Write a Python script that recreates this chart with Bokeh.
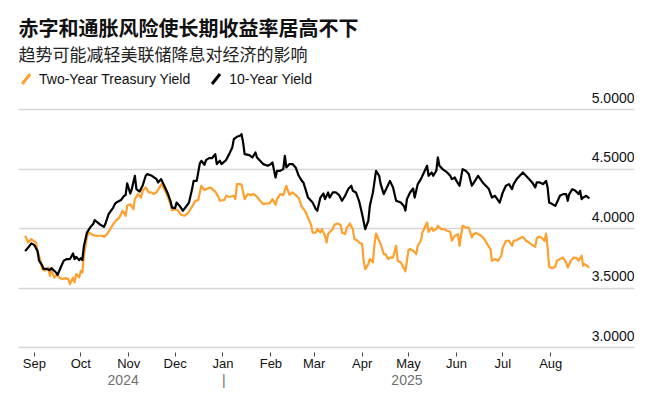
import pandas as pd
from bokeh.plotting import figure
from bokeh.models import (Range1d, FixedTicker, DatetimeTickFormatter, LinearAxis,
                          Label, Legend, LegendItem, ColumnDataSource, Arrow)
from bokeh.core.properties import value
from bokeh.embed import file_html
from bokeh.resources import INLINE

# ---------------- data ----------------
ten_dates = [
    "2024-08-26", "2024-08-28", "2024-08-30", "2024-09-01", "2024-09-03", "2024-09-04", "2024-09-06",
    "2024-09-07", "2024-09-09", "2024-09-11", "2024-09-12", "2024-09-15", "2024-09-16", "2024-09-18",
    "2024-09-20", "2024-09-22", "2024-09-24", "2024-09-26", "2024-09-27", "2024-09-28", "2024-09-30",
    "2024-10-01", "2024-10-02", "2024-10-03", "2024-10-05", "2024-10-07", "2024-10-09", "2024-10-10",
    "2024-10-12", "2024-10-14", "2024-10-16", "2024-10-17", "2024-10-19", "2024-10-22", "2024-10-23",
    "2024-10-24", "2024-10-27", "2024-10-29", "2024-10-30", "2024-10-31", "2024-11-02", "2024-11-03",
    "2024-11-05", "2024-11-06", "2024-11-08", "2024-11-10", "2024-11-12", "2024-11-13", "2024-11-16",
    "2024-11-19", "2024-11-20", "2024-11-22", "2024-11-24", "2024-11-26", "2024-11-28", "2024-11-29",
    "2024-12-01", "2024-12-02", "2024-12-04", "2024-12-06", "2024-12-08", "2024-12-10", "2024-12-12",
    "2024-12-13", "2024-12-15", "2024-12-17", "2024-12-18", "2024-12-20", "2024-12-21", "2024-12-23",
    "2024-12-25", "2024-12-27", "2024-12-28", "2024-12-30", "2024-12-31", "2025-01-03", "2025-01-05",
    "2025-01-07", "2025-01-08", "2025-01-10", "2025-01-12", "2025-01-13", "2025-01-14", "2025-01-15",
    "2025-01-18", "2025-01-20", "2025-01-22", "2025-01-23", "2025-01-25", "2025-01-27", "2025-01-30",
    "2025-02-01", "2025-02-02", "2025-02-04", "2025-02-05", "2025-02-07", "2025-02-09", "2025-02-10",
    "2025-02-11", "2025-02-13", "2025-02-15", "2025-02-17", "2025-02-19", "2025-02-21", "2025-02-22",
    "2025-02-24", "2025-02-25", "2025-02-28", "2025-03-02", "2025-03-03", "2025-03-05", "2025-03-07",
    "2025-03-08", "2025-03-10", "2025-03-11", "2025-03-13", "2025-03-15", "2025-03-17", "2025-03-19",
    "2025-03-21", "2025-03-23", "2025-03-25", "2025-03-26", "2025-03-28", "2025-03-30", "2025-04-01",
    "2025-04-03", "2025-04-05", "2025-04-06", "2025-04-08", "2025-04-10", "2025-04-12", "2025-04-13",
    "2025-04-15", "2025-04-17", "2025-04-19", "2025-04-21", "2025-04-23", "2025-04-26", "2025-04-28",
    "2025-04-29", "2025-04-30", "2025-05-02", "2025-05-04", "2025-05-05", "2025-05-07", "2025-05-09",
    "2025-05-11", "2025-05-13", "2025-05-14", "2025-05-16", "2025-05-17", "2025-05-19", "2025-05-20",
    "2025-05-21", "2025-05-23", "2025-05-26", "2025-05-28", "2025-05-29", "2025-05-31", "2025-06-01",
    "2025-06-03", "2025-06-05", "2025-06-07", "2025-06-09", "2025-06-11", "2025-06-13", "2025-06-15",
    "2025-06-18", "2025-06-20", "2025-06-22", "2025-06-24", "2025-06-26", "2025-06-29", "2025-07-01",
    "2025-07-03", "2025-07-05", "2025-07-07", "2025-07-08", "2025-07-10", "2025-07-12", "2025-07-14",
    "2025-07-16", "2025-07-18", "2025-07-20", "2025-07-22", "2025-07-23", "2025-07-25", "2025-07-27",
    "2025-07-29", "2025-07-30", "2025-07-31", "2025-08-02", "2025-08-04", "2025-08-05", "2025-08-07",
    "2025-08-09", "2025-08-11", "2025-08-12", "2025-08-13", "2025-08-15", "2025-08-17", "2025-08-19",
    "2025-08-20", "2025-08-21", "2025-08-22", "2025-08-24", "2025-08-26",
]
ten_yield = [
    3.81, 3.84, 3.875, 3.86, 3.81, 3.73, 3.69,
    3.66, 3.66, 3.65, 3.667, 3.63, 3.61, 3.672,
    3.73, 3.743, 3.743, 3.79, 3.743, 3.762, 3.734,
    3.75, 3.734, 3.85, 3.966, 4.008, 4.037, 4.07,
    4.05, 4.029, 4.014, 4.042, 4.121, 4.176, 4.205,
    4.218, 4.239, 4.275, 4.28, 4.38, 4.294, 4.331,
    4.443, 4.331, 4.31, 4.359, 4.443, 4.457, 4.443,
    4.415, 4.387, 4.415, 4.359, 4.303, 4.233, 4.176,
    4.171, 4.218, 4.19, 4.149, 4.182, 4.218, 4.331,
    4.40, 4.40, 4.546, 4.569, 4.535, 4.575, 4.592,
    4.592, 4.625, 4.541, 4.569, 4.541, 4.575, 4.625,
    4.681, 4.751, 4.771, 4.779, 4.793, 4.723, 4.625,
    4.617, 4.597, 4.639, 4.597, 4.569, 4.541, 4.527,
    4.541, 4.555, 4.429, 4.485, 4.485, 4.499, 4.611,
    4.513, 4.541, 4.541, 4.513, 4.443, 4.40, 4.387,
    4.303, 4.26, 4.218, 4.163, 4.149, 4.26, 4.294,
    4.247, 4.303, 4.26, 4.303, 4.303, 4.283, 4.233,
    4.275, 4.331, 4.359, 4.317, 4.303, 4.233, 4.121,
    3.995, 4.065, 4.191, 4.303, 4.485, 4.443, 4.373,
    4.289, 4.345, 4.40, 4.345, 4.233, 4.218, 4.19,
    4.15, 4.247, 4.303, 4.336, 4.26, 4.373, 4.415,
    4.471, 4.527, 4.443, 4.471, 4.443, 4.485, 4.597,
    4.527, 4.499, 4.471, 4.443, 4.415, 4.429, 4.40,
    4.359, 4.499, 4.485, 4.457, 4.359, 4.40, 4.443,
    4.387, 4.359, 4.331, 4.26, 4.275, 4.218, 4.303,
    4.359, 4.373, 4.331, 4.373, 4.415, 4.443, 4.471,
    4.443, 4.415, 4.387, 4.345, 4.387, 4.387, 4.373,
    4.40, 4.345, 4.218, 4.205, 4.19, 4.218, 4.275,
    4.289, 4.289, 4.233, 4.289, 4.331, 4.317, 4.289,
    4.317, 4.247, 4.26, 4.275, 4.252,
]

two_dates = [
    "2024-08-26", "2024-08-28", "2024-08-30", "2024-09-02", "2024-09-03", "2024-09-05", "2024-09-06",
    "2024-09-08", "2024-09-10", "2024-09-11", "2024-09-12", "2024-09-14", "2024-09-16", "2024-09-17",
    "2024-09-19", "2024-09-21", "2024-09-23", "2024-09-24", "2024-09-26", "2024-09-27", "2024-09-28",
    "2024-09-30", "2024-10-01", "2024-10-02", "2024-10-03", "2024-10-05", "2024-10-06", "2024-10-08",
    "2024-10-10", "2024-10-12", "2024-10-15", "2024-10-16", "2024-10-18", "2024-10-20", "2024-10-22",
    "2024-10-24", "2024-10-26", "2024-10-28", "2024-10-30", "2024-10-31", "2024-11-02", "2024-11-04",
    "2024-11-05", "2024-11-07", "2024-11-09", "2024-11-10", "2024-11-12", "2024-11-14", "2024-11-16",
    "2024-11-17", "2024-11-19", "2024-11-21", "2024-11-22", "2024-11-24", "2024-11-26", "2024-11-28",
    "2024-11-29", "2024-12-01", "2024-12-03", "2024-12-05", "2024-12-07", "2024-12-09", "2024-12-11",
    "2024-12-13", "2024-12-14", "2024-12-16", "2024-12-17", "2024-12-18", "2024-12-20", "2024-12-21",
    "2024-12-24", "2024-12-25", "2024-12-27", "2024-12-29", "2024-12-30", "2025-01-02", "2025-01-03",
    "2025-01-05", "2025-01-08", "2025-01-09", "2025-01-10", "2025-01-12", "2025-01-13", "2025-01-15",
    "2025-01-17", "2025-01-19", "2025-01-21", "2025-01-23", "2025-01-25", "2025-01-27", "2025-01-29",
    "2025-01-31", "2025-02-02", "2025-02-04", "2025-02-05", "2025-02-07", "2025-02-09", "2025-02-11",
    "2025-02-13", "2025-02-15", "2025-02-17", "2025-02-19", "2025-02-21", "2025-02-23", "2025-02-25",
    "2025-02-27", "2025-02-28", "2025-03-02", "2025-03-03", "2025-03-05", "2025-03-06", "2025-03-08",
    "2025-03-09", "2025-03-10", "2025-03-13", "2025-03-14", "2025-03-16", "2025-03-18", "2025-03-19",
    "2025-03-21", "2025-03-22", "2025-03-24", "2025-03-26", "2025-03-27", "2025-03-29", "2025-03-30",
    "2025-04-01", "2025-04-02", "2025-04-03", "2025-04-05", "2025-04-06", "2025-04-08", "2025-04-09",
    "2025-04-10", "2025-04-12", "2025-04-13", "2025-04-15", "2025-04-16", "2025-04-18", "2025-04-19",
    "2025-04-21", "2025-04-23", "2025-04-24", "2025-04-26", "2025-04-27", "2025-04-29", "2025-05-01",
    "2025-05-02", "2025-05-04", "2025-05-06", "2025-05-07", "2025-05-09", "2025-05-10", "2025-05-12",
    "2025-05-13", "2025-05-14", "2025-05-16", "2025-05-17", "2025-05-19", "2025-05-20", "2025-05-22",
    "2025-05-24", "2025-05-26", "2025-05-28", "2025-05-29", "2025-05-31", "2025-06-02", "2025-06-03",
    "2025-06-05", "2025-06-07", "2025-06-09", "2025-06-11", "2025-06-12", "2025-06-14", "2025-06-17",
    "2025-06-19", "2025-06-21", "2025-06-23", "2025-06-24", "2025-06-26", "2025-06-28", "2025-06-30",
    "2025-07-01", "2025-07-03", "2025-07-05", "2025-07-07", "2025-07-08", "2025-07-10", "2025-07-12",
    "2025-07-14", "2025-07-16", "2025-07-18", "2025-07-20", "2025-07-22", "2025-07-23", "2025-07-24",
    "2025-07-26", "2025-07-28", "2025-07-29", "2025-07-30", "2025-07-31", "2025-08-02", "2025-08-04",
    "2025-08-05", "2025-08-07", "2025-08-09", "2025-08-11", "2025-08-12", "2025-08-14", "2025-08-16",
    "2025-08-18", "2025-08-19", "2025-08-21", "2025-08-22", "2025-08-23", "2025-08-26",
]
two_yield = [
    3.939, 3.882, 3.911, 3.882, 3.813, 3.729, 3.659,
    3.645, 3.672, 3.602, 3.645, 3.588, 3.617, 3.588,
    3.575, 3.583, 3.575, 3.533, 3.588, 3.546, 3.617,
    3.588, 3.645, 3.63, 3.77, 3.924, 3.966, 3.953,
    3.939, 3.939, 3.939, 3.93, 3.953, 3.995, 4.037,
    4.07, 4.092, 4.149, 4.107, 4.191, 4.205, 4.163,
    4.247, 4.289, 4.26, 4.317, 4.345, 4.303, 4.303,
    4.289, 4.303, 4.345, 4.373, 4.331, 4.275, 4.205,
    4.154, 4.163, 4.149, 4.115, 4.107, 4.126, 4.163,
    4.205, 4.233, 4.239, 4.303, 4.359, 4.322, 4.331,
    4.345, 4.331, 4.31, 4.266, 4.233, 4.24, 4.275,
    4.265, 4.275, 4.247, 4.373, 4.373, 4.367, 4.247,
    4.289, 4.283, 4.289, 4.266, 4.233, 4.205, 4.21,
    4.21, 4.247, 4.199, 4.247, 4.289, 4.283, 4.359,
    4.283, 4.303, 4.283, 4.255, 4.182, 4.149, 4.092,
    4.03, 3.966, 3.965, 3.995, 3.966, 3.995, 3.939,
    3.882, 3.953, 3.995, 4.031, 4.042, 4.031, 3.966,
    3.953, 4.003, 4.042, 3.995, 3.911, 3.897, 3.882,
    3.869, 3.729, 3.659, 3.701, 3.743, 3.715, 3.869,
    3.958, 3.897, 3.869, 3.785, 3.785, 3.743, 3.756,
    3.756, 3.855, 3.729, 3.715, 3.69, 3.64, 3.82,
    3.827, 3.813, 3.785, 3.855, 3.897, 3.966, 4.023,
    4.05, 3.972, 4.008, 3.981, 3.995, 4.023, 3.995,
    3.995, 3.981, 3.972, 3.897, 3.939, 3.953, 3.855,
    4.023, 4.008, 4.008, 3.924, 3.953, 3.961, 3.939,
    3.911, 3.869, 3.827, 3.729, 3.743, 3.729, 3.771,
    3.84, 3.897, 3.897, 3.855, 3.897, 3.902, 3.919,
    3.93, 3.897, 3.882, 3.863, 3.846, 3.919, 3.93,
    3.924, 3.897, 3.958, 3.84, 3.678, 3.667, 3.678,
    3.729, 3.743, 3.756, 3.715, 3.672, 3.729, 3.756,
    3.751, 3.729, 3.771, 3.687, 3.701, 3.672,
]

series_names = ["Two-Year Treasury Yield", "10-Year Yield"]
series_colors = ["#ffa02e", "#000000"]
y_ticks = [3.0, 3.5, 4.0, 4.5, 5.0]
month_starts = ["2024-09-01", "2024-10-01", "2024-11-01", "2024-12-01", "2025-01-01", "2025-02-01",
                "2025-03-01", "2025-04-01", "2025-05-01", "2025-06-01", "2025-07-01", "2025-08-01"]
year_marks = ["2024-10-28 10:00", "2025-01-01 12:00", "2025-04-30 00:00"]
year_texts = ["2024", "|", "2025"]

title_text = "赤字和通胀风险使长期收益率居高不下"
subtitle_text = "趋势可能减轻美联储降息对经济的影响"


def ms(s):
    return pd.Timestamp(s).value / 1e6


x_start = pd.Timestamp("2024-08-21 17:00")
x_end = pd.Timestamp("2025-09-24 05:00")

p = figure(width=660, height=396, x_axis_type="datetime", output_backend="svg",
           toolbar_location=None, y_axis_location=None,
           x_range=Range1d(x_start, x_end), y_range=Range1d(3.0, 5.916),
           min_border_left=18, min_border_right=26, min_border_top=0, min_border_bottom=49)
p.outline_line_color = None
p.background_fill_color = "white"
p.border_fill_color = "white"
p.xgrid.visible = False

yg = p.ygrid[0]
yg.ticker = FixedTicker(ticks=y_ticks)
yg.grid_line_color = "#d6d6d6"
yg.grid_line_width = 1.5

two_src = ColumnDataSource(dict(x=pd.to_datetime(two_dates), y=two_yield))
ten_src = ColumnDataSource(dict(x=pd.to_datetime(ten_dates), y=ten_yield))
p.line("x", "y", source=two_src, line_color=series_colors[0], line_width=2.2, line_join="round")
p.line("x", "y", source=ten_src, line_color=series_colors[1], line_width=2.2, line_join="round")

# y tick labels inside the plot, right aligned above each gridline
lab_src = ColumnDataSource(dict(x=[x_end] * len(y_ticks), y=y_ticks,
                                t=[f"{v:.4f}" for v in y_ticks]))
p.text("x", "y", text="t", source=lab_src, text_align="right", text_baseline="alphabetic",
       y_offset=-12, text_font=value("Liberation Sans"), text_font_size="14px",
       text_color="#111111")

# main x axis
xa = p.xaxis[0]
xa.ticker = FixedTicker(ticks=[ms(s) for s in month_starts])
xa.formatter = DatetimeTickFormatter(months="%b", days="%b", hours="%b", years="%b",
                                     minutes="%b", seconds="%b", milliseconds="%b",
                                     microseconds="%b", minsec="%b", hourmin="%b")
xa.axis_line_color = "#d6d6d6"
xa.axis_line_width = 1.5
xa.major_tick_line_color = "#444444"
xa.major_tick_in = -5
xa.major_tick_out = 9
xa.minor_tick_line_color = None
xa.major_label_standoff = -1
xa.major_label_text_font = "Liberation Sans"
xa.major_label_text_font_size = "13px"
xa.major_label_text_color = "#111111"

# year axis
ya = LinearAxis(ticker=FixedTicker(ticks=[ms(s) for s in year_marks]),
                major_label_overrides={ms(s): t for s, t in zip(year_marks, year_texts)})
ya.axis_line_color = None
ya.major_tick_line_color = None
ya.minor_tick_line_color = None
ya.major_tick_in = 0
ya.major_tick_out = 0
ya.major_label_standoff = -2
ya.major_label_text_font = "Liberation Sans"
ya.major_label_text_font_size = "14px"
ya.major_label_text_color = "#707070"
p.add_layout(ya, "below")

# legend: text from a Legend (icons transparent), slanted strokes drawn as arrows without heads
r_two = p.scatter(x=[two_src.data["x"][-1]], y=[two_yield[-1]], marker="dash",
                  line_color=series_colors[0], line_alpha=0, visible=False)
r_ten = p.scatter(x=[ten_src.data["x"][-1]], y=[ten_yield[-1]], marker="dash",
                  line_color=series_colors[1], line_alpha=0, visible=False)
legend = Legend(items=[LegendItem(label=series_names[0], renderers=[r_two]),
                       LegendItem(label=series_names[1], renderers=[r_ten])],
                orientation="horizontal", location=(-11, 252.5), padding=0, margin=0,
                spacing=7, glyph_width=32, glyph_height=32, label_height=32,
                label_standoff=-10, label_text_font="Liberation Sans",
                label_text_font_size="14px", label_text_color="#111111",
                background_fill_alpha=0, border_line_color=None,
                inactive_fill_alpha=0)
p.add_layout(legend)
for (x0, x1), col in zip([(3.7, 11.7), (193.5, 201.5)], series_colors):
    p.add_layout(Arrow(x_start=x0, y_start=263.5, x_end=x1, y_end=273.5,
                       start_units="screen", end_units="screen", start=None, end=None,
                       line_color=col, line_width=3))

p.add_layout(Label(x=0, y=320, x_units="screen", y_units="screen", text=title_text,
                   text_baseline="middle", text_font="Noto Sans CJK SC", text_font_style="bold",
                   text_font_size="20px", text_color="#111111"))
p.add_layout(Label(x=0, y=294.5, x_units="screen", y_units="screen", text=subtitle_text,
                   text_baseline="middle", text_font="Noto Sans CJK SC",
                   text_font_size="17px", text_color="#222222"))

open("out.html", "w").write(file_html(p, INLINE))
